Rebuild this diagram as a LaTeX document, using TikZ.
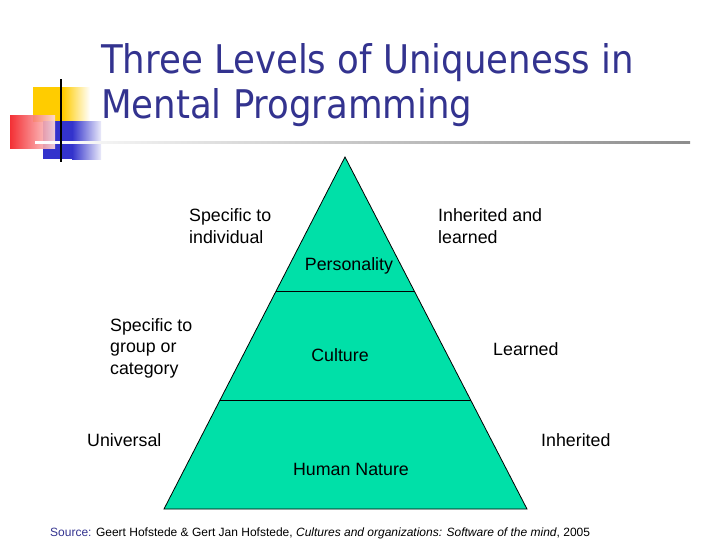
\documentclass[tikz,border=0pt]{standalone}
\usepackage{fontspec}
\setmainfont{Liberation Sans}
\newfontfamily\titlefont{DejaVu Sans Condensed}
\usetikzlibrary{calc,positioning}
\definecolor{slideblue}{rgb}{0.20, 0.20, 0.56}
\definecolor{pyramidgreen}{rgb}{0.00, 0.88, 0.66}
\definecolor{logoyellow}{rgb}{1.00, 0.80, 0.00}
\definecolor{logored}{rgb}{0.95, 0.10, 0.12}
\definecolor{logoblue}{rgb}{0.20, 0.20, 0.80}
\tikzset{
  titulo/.style={
    anchor=base west,
    align=left,
    text=slideblue,
    inner sep=0pt,
    font=\titlefont\fontsize{39.5}{45}\selectfont
  },
  etiqueta/.style={
    anchor=base west,
    align=left,
    inner sep=0pt,
    font=\fontsize{17.8}{21.5}\selectfont
  },
  nivel/.style={
    anchor=base,
    inner sep=0pt,
    font=\fontsize{17.8}{21.5}\selectfont
  },
  fuente/.style={
    anchor=base west,
    inner sep=0pt,
    font=\fontsize{12}{14}\selectfont
  }
}
\begin{document}
\begin{tikzpicture}[x=1pt,y=-1pt]
\useasboundingbox (0,0) rectangle (728,546);
% logo
\shade[left color=logoyellow, right color=white] (63,87) rectangle (90,122);
\fill[logoyellow] (33,87) rectangle (63,122);
\shade[left color=logoblue, right color=logoblue!10] (72,121) rectangle (101,159);
\fill[logoblue] (43,121) rectangle (72,159);
\shade[left color=logored, right color=logored!15, opacity=.9] (10,115) rectangle (55,148);
\shade[left color=white, right color=black!45] (35,141.5) rectangle (690,143.5);
\draw[line width=2pt] (61,79) -- (61,162);
% title (base = last line)
\node[titulo] (title) at (101,118) {Three Levels of Uniqueness in\\Mental Programming};
% pyramid
\coordinate (apex) at (345,157);
\coordinate (bl) at (164,509);
\coordinate (br) at (527,509);
\coordinate (l1) at ($(apex)!134/352!(bl)$);
\coordinate (r1) at ($(apex)!134/352!(br)$);
\coordinate (l2) at ($(apex)!243/352!(bl)$);
\coordinate (r2) at ($(apex)!243/352!(br)$);
\fill[pyramidgreen] (apex) -- (bl) -- (br) -- cycle;
\draw[line width=.8pt] (apex) -- (bl) -- (br) -- cycle;
\draw[line width=.8pt] (l1) -- (r1);
\draw[line width=.8pt] (l2) -- (r2);
% levels
\node[nivel] (personality) at (349,270) {Personality};
\node[nivel] (culture) at (340,361) {Culture};
\node[nivel] (nature) at (351,475) {Human Nature};
% labels
\node[etiqueta] (individual) at (189,243) {Specific to\\individual};
\node[etiqueta] (both) at (438,243) {Inherited and\\learned};
\node[etiqueta] (group) at (110,374) {Specific to\\group or\\category};
\node[etiqueta] (learned) at (493,355) {Learned};
\node[etiqueta] (universal) at (87,446) {Universal};
\node[etiqueta] (inherited) at (541,446) {Inherited};
% source
\node[fuente] (source) at (50,536) {\textcolor{slideblue}{Source:} Geert Hofstede \& Gert Jan Hofstede, \textit{Cultures and organizations: Software of the mind}, 2005};
\end{tikzpicture}
\end{document}
